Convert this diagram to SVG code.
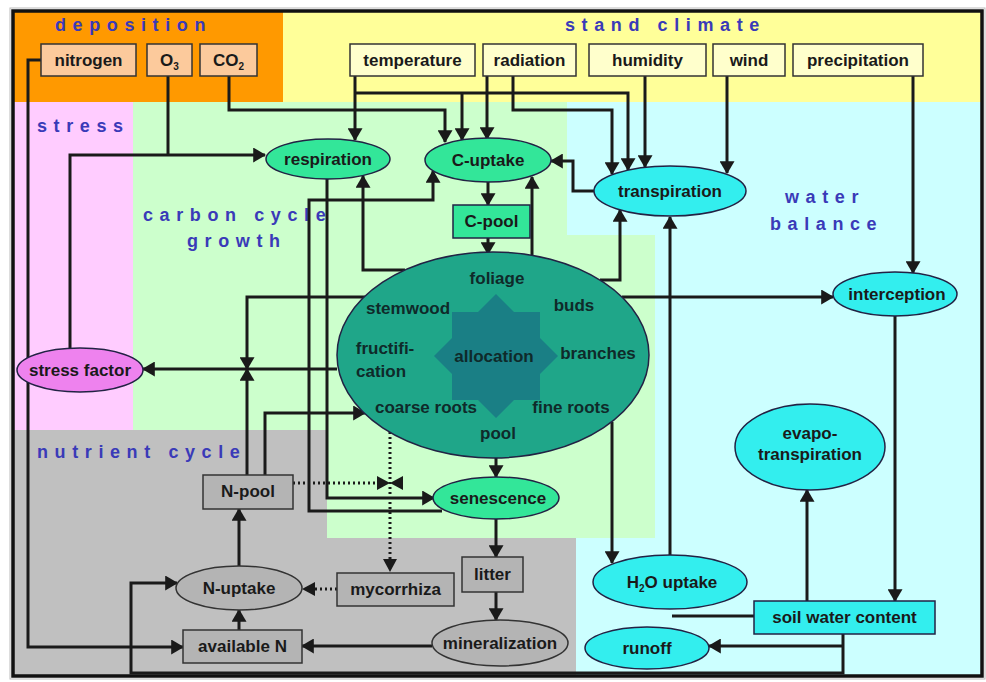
<svg xmlns="http://www.w3.org/2000/svg" width="986" height="682" viewBox="0 0 986 682">
<defs>
<marker id="a" viewBox="0 0 12 14" refX="11" refY="7" markerWidth="13" markerHeight="15" markerUnits="userSpaceOnUse" orient="auto"><path d="M0,0 L12,7 L0,14 z" fill="#1a1a1a"/></marker>
<style>
.t{font-family:"Liberation Sans",Arial,sans-serif;font-weight:bold;font-size:17px;fill:#1a1a1a;text-anchor:middle}
.ti{font-family:"Liberation Sans",Arial,sans-serif;font-weight:bold;font-size:17px;fill:#0f2a2a;text-anchor:middle}
.rl{font-family:"Liberation Sans",Arial,sans-serif;font-weight:bold;font-size:18px;fill:#3a3ab8;letter-spacing:6.6px}
.c{fill:none;stroke:#1a1a1a;stroke-width:3}
.ca{fill:none;stroke:#1a1a1a;stroke-width:3;marker-end:url(#a)}
.d{fill:none;stroke:#1a1a1a;stroke-width:3;stroke-dasharray:2 3}
.dep{fill:#fcca9c;stroke:#333;stroke-width:1.5}
.cli{fill:#ffffcc;stroke:#333;stroke-width:1.5}
.gr{fill:#33e699;stroke:#224;stroke-width:1.5}
.cy{fill:#33eeee;stroke:#224;stroke-width:1.5}
.gy{fill:#b4b4b4;stroke:#333;stroke-width:1.5}
</style>
</defs>
<rect x="0" y="0" width="986" height="682" fill="#ffffff"/>
<g id="regions">
<rect x="14" y="11" width="968" height="665" fill="#ccffff"/>
<rect x="14" y="430" width="562" height="246" fill="#c0c0c0"/>
<polygon points="133,102 567,102 567,235 655,235 655,538 327,538 327,430 133,430" fill="#ccffcc"/>
<rect x="14" y="102" width="119" height="328" fill="#ffccff"/>
<rect x="283" y="11" width="699" height="91" fill="#ffff99"/>
<rect x="14" y="11" width="269" height="91" fill="#ff9900"/>
<rect x="10" y="8" width="975" height="671" fill="none" stroke="#bbb" stroke-width="1"/>
<rect x="13" y="11" width="969" height="665" fill="none" stroke="#111" stroke-width="3.5"/>
<text class="rl" x="55" y="31">deposition</text>
<text class="rl" x="565" y="31">stand climate</text>
<text class="rl" x="37" y="132">stress</text>
<text class="rl" x="143" y="221">carbon cycle</text>
<text class="rl" x="187" y="247">growth</text>
<text class="rl" x="785" y="203">water</text>
<text class="rl" x="770" y="230">balance</text>
<text class="rl" x="37" y="458">nutrient cycle</text>
</g>
<g id="connectors">
<path class="ca" d="M41,60 H28 V647 H183"/>
<path class="c" d="M168,76 V155"/>
<path class="ca" d="M70,348 V155 H265"/>
<path class="ca" d="M229,76 V110 H445 V142"/>
<path class="ca" d="M355,76 V140"/>
<path class="ca" d="M355,93 H628 V170"/>
<path class="ca" d="M462,93 V140"/>
<path class="ca" d="M487,76 V139"/>
<path class="ca" d="M513,76 V110 H612 V174"/>
<path class="ca" d="M645,76 V167"/>
<path class="ca" d="M727,76 V173"/>
<path class="ca" d="M913,76 V273"/>
<path class="ca" d="M594,191 H573 V161 H551"/>
<path class="ca" d="M488,182 V205"/>
<path class="ca" d="M488,238 V254"/>
<path class="ca" d="M532,258 V177"/>
<path class="ca" d="M405,270 H363 V176"/>
<path class="ca" d="M600,280 H620 V210"/>
<path class="ca" d="M670,556 V217"/>
<path class="ca" d="M327,179 V498 H434"/>
<path class="ca" d="M442,511 H309 V200 H433 V171"/>
<path class="ca" d="M337,369 H143"/>
<path class="ca" d="M365,297 H247 V369"/>
<path class="ca" d="M247,475 V369"/>
<path class="ca" d="M265,475 V413 H365"/>
<path class="ca" d="M622,297 H833"/>
<path class="ca" d="M496,458 V477"/>
<path class="ca" d="M496,519 V557"/>
<path class="ca" d="M496,592 V620"/>
<path class="ca" d="M612,422 V563"/>
<path class="c" d="M754,616 H672"/>
<path class="ca" d="M895,316 V601"/>
<path class="ca" d="M807,601 V490"/>
<path class="ca" d="M843,634 V673 H131 V583 H177"/>
<path class="ca" d="M843,646 H709"/>
<path class="ca" d="M432,646 H302"/>
<path class="ca" d="M239,566 V509"/>
<path class="ca" d="M239,630 V610"/>
<path class="d" d="M293,483 H380"/>
<path class="d" d="M390,432 V560"/>
<path d="M383,559 L390,572 L397,559 z" fill="#1a1a1a"/>
<path class="d" d="M337,589 H314"/>
<path d="M315,582 L302,589 L315,596 z" fill="#1a1a1a"/>
<path d="M377,476 L390,483 L377,490 z M403,476 L390,483 L403,490 z" fill="#1a1a1a"/>
</g>
<g id="nitrogen"><rect class="dep" x="41" y="44" width="95" height="32"/><text class="t" x="88.5" y="66">nitrogen</text></g>
<g id="o3"><rect class="dep" x="147" y="44" width="45" height="32"/><text class="t" x="169.5" y="66">O<tspan font-size="10" dy="4">3</tspan></text></g>
<g id="co2"><rect class="dep" x="200" y="44" width="57" height="32"/><text class="t" x="228.5" y="66">CO<tspan font-size="10" dy="4">2</tspan></text></g>
<g id="temperature"><rect class="cli" x="350" y="44" width="125" height="32"/><text class="t" x="412.5" y="66">temperature</text></g>
<g id="radiation"><rect class="cli" x="483" y="44" width="93" height="32"/><text class="t" x="529.5" y="66">radiation</text></g>
<g id="humidity"><rect class="cli" x="589" y="44" width="117" height="32"/><text class="t" x="647.5" y="66">humidity</text></g>
<g id="wind"><rect class="cli" x="713" y="44" width="72" height="32"/><text class="t" x="749" y="66">wind</text></g>
<g id="precipitation"><rect class="cli" x="793" y="44" width="130" height="32"/><text class="t" x="858" y="66">precipitation</text></g>
<g id="respiration"><ellipse class="gr" cx="328" cy="159" rx="62" ry="20"/><text class="t" x="328" y="165">respiration</text></g>
<g id="c-uptake"><ellipse class="gr" cx="488" cy="160" rx="63" ry="22"/><text class="t" x="488" y="166">C-uptake</text></g>
<g id="transpiration"><ellipse class="cy" cx="670" cy="191" rx="76" ry="25"/><text class="t" x="670" y="197">transpiration</text></g>
<g id="c-pool"><rect class="gr" x="453" y="205" width="77" height="33"/><text class="t" x="491.5" y="227">C-pool</text></g>
<g id="allocation">
<ellipse cx="493" cy="355" rx="156" ry="103" fill="#1fa689" stroke="#224" stroke-width="1.5"/>
<polygon points="496,294 514,312 540,312 540,338 558,356 540,374 540,400 514,400 496,418 478,400 452,400 452,374 434,356 452,338 452,312 478,312" fill="#1a7f85"/>
<text class="ti" x="497" y="284">foliage</text>
<text class="ti" x="408" y="314">stemwood</text>
<text class="ti" x="574" y="311">buds</text>
<text class="ti" x="385" y="354">fructifi-</text>
<text class="ti" x="381" y="377">cation</text>
<text class="ti" x="494" y="362">allocation</text>
<text class="ti" x="598" y="359">branches</text>
<text class="ti" x="426" y="413">coarse roots</text>
<text class="ti" x="571" y="413">fine roots</text>
<text class="ti" x="498" y="439">pool</text>
</g>
<g id="stress-factor"><ellipse cx="80" cy="370" rx="63" ry="22" fill="#ee82ee" stroke="#224" stroke-width="1.5"/><text class="t" x="80" y="376">stress factor</text></g>
<g id="interception"><ellipse class="cy" cx="895" cy="294" rx="62" ry="22"/><text class="t" x="897" y="300">interception</text></g>
<g id="evapotranspiration"><ellipse class="cy" cx="810" cy="447" rx="75" ry="43"/><text class="t" x="810" y="439">evapo-</text><text class="t" x="810" y="460">transpiration</text></g>
<g id="senescence"><ellipse class="gr" cx="496" cy="498" rx="63" ry="21"/><text class="t" x="498" y="504">senescence</text></g>
<g id="h2o-uptake"><ellipse class="cy" cx="670" cy="582" rx="77" ry="27"/><text class="t" x="672" y="588">H<tspan font-size="10" dy="4">2</tspan><tspan dy="-4">O uptake</tspan></text></g>
<g id="soil-water-content"><rect class="cy" x="754" y="601" width="181" height="33"/><text class="t" x="844.5" y="623">soil water content</text></g>
<g id="runoff"><ellipse class="cy" cx="647" cy="648" rx="62" ry="21"/><text class="t" x="647" y="654">runoff</text></g>
<g id="n-pool"><rect class="gy" x="203" y="475" width="90" height="34"/><text class="t" x="248" y="497">N-pool</text></g>
<g id="litter"><rect class="gy" x="462" y="557" width="61" height="35"/><text class="t" x="492.5" y="580">litter</text></g>
<g id="mycorrhiza"><rect class="gy" x="337" y="573" width="117" height="33"/><text class="t" x="395.5" y="595">mycorrhiza</text></g>
<g id="n-uptake"><ellipse class="gy" cx="239" cy="588" rx="63" ry="22"/><text class="t" x="239" y="594">N-uptake</text></g>
<g id="available-n"><rect class="gy" x="183" y="630" width="119" height="33"/><text class="t" x="242.5" y="652">available N</text></g>
<g id="mineralization"><ellipse class="gy" cx="500" cy="643" rx="68" ry="23"/><text class="t" x="500" y="649">mineralization</text></g>
</svg>
